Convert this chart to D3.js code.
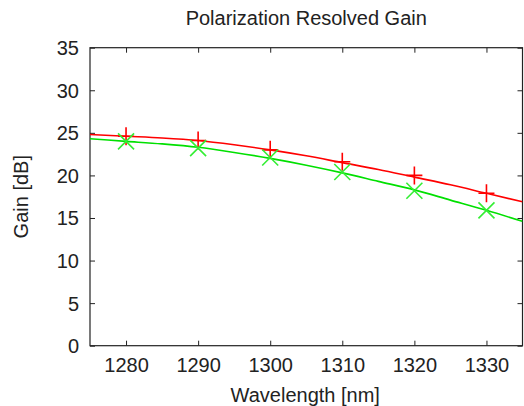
<!DOCTYPE html>
<html>
<head>
<meta charset="utf-8">
<script src="https://cdn.jsdelivr.net/npm/d3@7"></script>
<style>
  html, body { margin: 0; padding: 0; background: #fff; }
  svg { display: block; }
  text { font-family: "Liberation Sans", Arial, sans-serif; fill: #222; }
</style>
</head>
<body>
<svg id="chart" width="524" height="406"></svg>
<script>
// ---- data ----
const wavelengths = [1280, 1290, 1300, 1310, 1320, 1330];
const gainRed = [24.6, 24.1, 23.0, 21.6, 20.0, 17.9];
const gainGreen = [24.0, 23.2, 22.1, 20.4, 18.2, 15.9];
const fitX = [1275, 1280, 1285, 1290, 1295, 1300, 1305, 1310, 1315, 1320, 1325, 1330, 1335];
const fitRed = [24.8, 24.6, 24.4, 24.1, 23.6, 23.0, 22.3, 21.5, 20.7, 19.8, 18.9, 17.9, 16.9];
const fitGreen = [24.3, 24.0, 23.7, 23.3, 22.7, 22.0, 21.2, 20.3, 19.3, 18.3, 17.1, 15.9, 14.6];
const xTicks = [1280, 1290, 1300, 1310, 1320, 1330];
const yTicks = [0, 5, 10, 15, 20, 25, 30, 35];
const titleText = "Polarization Resolved Gain";
const xLabel = "Wavelength [nm]";
const yLabel = "Gain [dB]";

// ---- layout ----
const L = 90, R = 522.5, T = 47.7, B = 345.7;
const svg = d3.select("#chart");
const x = d3.scaleLinear().domain([1275, 1335]).range([L, R]);
const y = d3.scaleLinear().domain([0, 35]).range([B, T]);
const fontSize = 20;
const tickLen = 5;

// clip
svg.append("defs").append("clipPath").attr("id", "clip")
  .append("rect").attr("x", L).attr("y", T).attr("width", R - L).attr("height", B - T);

// axes with inward ticks
const axisStyle = g => {
  g.select(".domain").remove();
  g.selectAll(".tick line").attr("stroke", "#222").attr("stroke-width", 1);
  g.selectAll(".tick text").attr("font-size", fontSize).attr("font-family", "Liberation Sans, Arial, sans-serif").attr("fill", "#222");
};
svg.append("g").attr("transform", `translate(0,${B})`)
  .call(d3.axisBottom(x).tickValues(xTicks).tickFormat(d3.format("d")).tickSize(-tickLen).tickPadding(26 - fontSize * 0.72 + tickLen))
  .call(axisStyle)
  .call(g => g.selectAll(".tick text").attr("dy", null).attr("y", 26).attr("dominant-baseline", "auto"));
svg.append("g").attr("transform", `translate(0,${T})`)
  .call(d3.axisTop(x).tickValues(xTicks).tickSize(-tickLen).tickFormat(""))
  .call(axisStyle);
svg.append("g").attr("transform", `translate(${L},0)`)
  .call(d3.axisLeft(y).tickValues(yTicks).tickFormat(d3.format("d")).tickSize(-tickLen))
  .call(axisStyle)
  .call(g => g.selectAll(".tick text").attr("x", -11).attr("dy", "0.35em"));
svg.append("g").attr("transform", `translate(${R},0)`)
  .call(d3.axisRight(y).tickValues(yTicks).tickSize(-tickLen).tickFormat(""))
  .call(axisStyle);

// frame
svg.append("rect").attr("x", L).attr("y", T).attr("width", R - L).attr("height", B - T)
  .attr("fill", "none").attr("stroke", "#222").attr("stroke-width", 1.2);

// fit lines
const line = d3.line().x(d => x(d[0])).y(d => y(d[1])).curve(d3.curveMonotoneX);
const plot = svg.append("g").attr("clip-path", "url(#clip)");
plot.append("path").datum(fitX.map((v, i) => [v, fitRed[i]]))
  .attr("d", line).attr("fill", "none").attr("stroke", "#ff0000").attr("stroke-width", 1.6);
plot.append("path").datum(fitX.map((v, i) => [v, fitGreen[i]]))
  .attr("d", line).attr("fill", "none").attr("stroke", "#00e000").attr("stroke-width", 1.6);

// markers
const plusS = 8, crossS = 8;
svg.append("g").selectAll("path").data(wavelengths.map((v, i) => [v, gainRed[i]])).join("path")
  .attr("d", d => {
    const cx = x(d[0]), cy = y(d[1]);
    return `M${cx - plusS},${cy}H${cx + plusS}M${cx},${cy - plusS - 1}V${cy + plusS + 1}`;
  })
  .attr("stroke", "#ff0000").attr("stroke-width", 1.6).attr("fill", "none");
svg.append("g").selectAll("path").data(wavelengths.map((v, i) => [v, gainGreen[i]])).join("path")
  .attr("d", d => {
    const cx = x(d[0]), cy = y(d[1]);
    return `M${cx - crossS},${cy - crossS}L${cx + crossS},${cy + crossS}M${cx - crossS},${cy + crossS}L${cx + crossS},${cy - crossS}`;
  })
  .attr("stroke", "#33ee33").attr("stroke-width", 1.6).attr("fill", "none");

// titles
svg.append("text").attr("x", (L + R) / 2).attr("y", 25).attr("text-anchor", "middle")
  .attr("font-size", fontSize).text(titleText);
svg.append("text").attr("x", (L + R) / 2 - 1).attr("y", 402).attr("text-anchor", "middle")
  .attr("font-size", fontSize).text(xLabel);
svg.append("text").attr("transform", `translate(28,${(T + B) / 2}) rotate(-90)`)
  .attr("text-anchor", "middle").attr("font-size", fontSize).text(yLabel);
</script>
</body>
</html>
